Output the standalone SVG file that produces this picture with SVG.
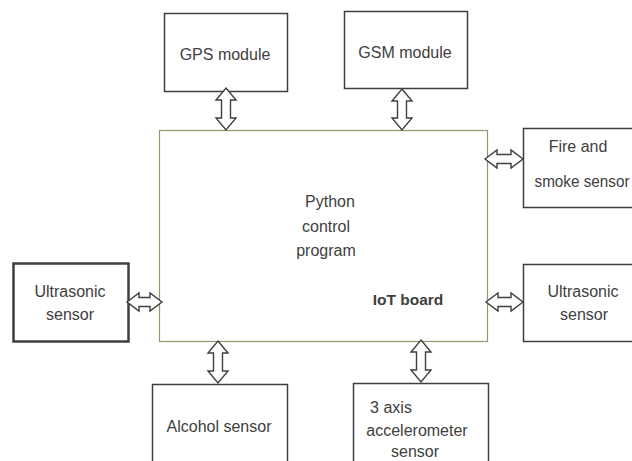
<svg xmlns="http://www.w3.org/2000/svg" width="632" height="461" viewBox="0 0 632 461">
<style>
.box{fill:#fff;stroke:#3f3f3f;stroke-width:1.5}
.thick{stroke-width:2.5}
.board{fill:#fff;stroke:#8c9a70;stroke-width:1.2}
.arr{fill:#fff;stroke:#3f3f3f;stroke-width:1.4;stroke-linejoin:miter}
text{font-family:"Liberation Sans",Arial,sans-serif;font-size:16px;fill:#404040;text-anchor:middle}
.b{font-weight:bold;font-size:15.5px}
</style>
<rect width="632" height="461" fill="#fff"/>
<g id="board">
<rect class="board" x="159.5" y="130.5" width="328" height="211"/>
<text x="330" y="207">Python</text>
<text x="326" y="232">control</text>
<text x="326" y="256">program</text>
<text class="b" x="408" y="305">IoT board</text>
</g>
<g id="gps">
<rect class="box" x="164.5" y="13.5" width="123" height="78"/>
<text x="225" y="60">GPS module</text>
</g>
<g id="gsm">
<rect class="box" x="344.5" y="11.5" width="123" height="77"/>
<text x="405" y="58">GSM module</text>
</g>
<g id="fire">
<rect class="box" x="523.5" y="128.5" width="120" height="79"/>
<text x="578" y="152">Fire and</text>
<text x="582" y="187" textLength="95" lengthAdjust="spacingAndGlyphs">smoke sensor</text>
</g>
<g id="ultra-right">
<rect class="box" x="523.5" y="264.5" width="120" height="77"/>
<text x="583" y="297">Ultrasonic</text>
<text x="584" y="320">sensor</text>
</g>
<g id="ultra-left">
<rect class="box thick" x="13.5" y="263.5" width="115" height="78"/>
<text x="70" y="297">Ultrasonic</text>
<text x="70" y="320">sensor</text>
</g>
<g id="alcohol">
<rect class="box" x="152.5" y="384.5" width="135" height="90"/>
<text x="219" y="432">Alcohol sensor</text>
</g>
<g id="accel">
<rect class="box" x="353.5" y="383.5" width="135" height="90"/>
<text x="391" y="413">3 axis</text>
<text x="417" y="436">accelerometer</text>
<text x="415" y="457">sensor</text>
</g>
<g id="connectors">
<path class="arr" d="M226,88 L236,100 L230.5,100 L230.5,118 L236,118 L226,130 L216,118 L221.5,118 L221.5,100 L216,100 Z"/>
<path class="arr" d="M402,89 L412,101 L406.5,101 L406.5,118 L412,118 L402,130 L392,118 L397.5,118 L397.5,101 L392,101 Z"/>
<path class="arr" d="M218,341 L228,353 L222.5,353 L222.5,371 L228,371 L218,383 L208,371 L213.5,371 L213.5,353 L208,353 Z"/>
<path class="arr" d="M421,340 L431,352 L425.5,352 L425.5,370 L431,370 L421,382 L411,370 L416.5,370 L416.5,352 L411,352 Z"/>
<path class="arr" d="M127,302 L139,293 L139,297.5 L150,297.5 L150,293 L162,302 L150,311 L150,306.5 L139,306.5 L139,311 Z"/>
<path class="arr" d="M485,159 L497,150 L497,154.5 L511,154.5 L511,150 L523,159 L511,168 L511,163.5 L497,163.5 L497,168 Z"/>
<path class="arr" d="M486,302 L498,293 L498,297.5 L511,297.5 L511,293 L523,302 L511,311 L511,306.5 L498,306.5 L498,311 Z"/>
</g>
</svg>
